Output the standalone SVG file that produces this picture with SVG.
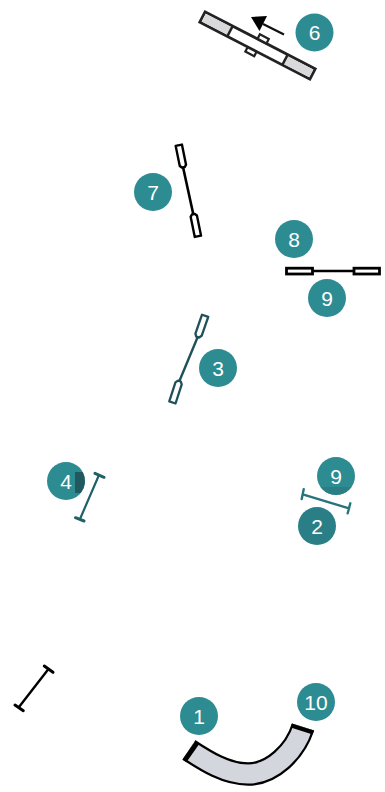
<svg xmlns="http://www.w3.org/2000/svg" width="385" height="792" viewBox="0 0 385 792">
<style>
.b{fill:#2d8b92}
.l{fill:#fff;font-family:"Liberation Sans",Arimo,sans-serif;font-size:21px;text-anchor:middle;dominant-baseline:central}
.k{fill:none;stroke:#000;stroke-linecap:round}
.t{fill:none;stroke:#1f5258;stroke-linecap:round}
</style>
<g id="connectors">
<line x1="284" y1="34.500" x2="263" y2="24" stroke="#111" stroke-width="2.200"/>
<path d="M251 17L267 16L259.500 31Z" fill="#000"/>
</g>
<g id="part-6">
<g transform="translate(257.500 45.500) rotate(27.400)">
<rect x="-62" y="-5.800" width="124" height="11.600" fill="#fff" stroke="#222" stroke-width="2.800"/>
<rect x="-60.600" y="-4.400" width="29" height="8.800" fill="#d9d9dc"/>
<rect x="31.600" y="-4.400" width="29" height="8.800" fill="#d9d9dc"/>
<path d="M-31-5.800V5.800M31-5.800V5.800" stroke="#222" stroke-width="2.400"/>
<rect x="-3" y="-11" width="10" height="5" fill="#fff" stroke="#222" stroke-width="2.200"/>
<rect x="-8" y="6" width="10" height="5" fill="#fff" stroke="#222" stroke-width="2.200"/>
</g>
<circle class="b" cx="314.500" cy="32.500" r="19"/><text class="l" x="314.500" y="32.500">6</text>
</g>
<g id="part-7">
<path class="k" stroke-width="2.600" d="M183 167L193.300 214.300"/>
<g transform="translate(181 156) rotate(-11.600)"><path d="M-3.200-11H3.200V9.500L1.500 11.500H-1.500L-3.200 9.500Z" fill="#fff" stroke="#000" stroke-width="2.400" stroke-linejoin="round"/></g>
<g transform="translate(195.700 225.500) rotate(-11.600)"><path d="M-3.200 11H3.200V-9.500L1.500-11.500H-1.500L-3.200-9.500Z" fill="#fff" stroke="#000" stroke-width="2.400" stroke-linejoin="round"/></g>
<circle class="b" cx="153" cy="192" r="19"/><text class="l" x="153" y="192">7</text>
</g>
<g id="part-8">
<path class="k" stroke-width="2.400" d="M313 271H353"/>
<rect x="286.500" y="268.200" width="26" height="5.800" fill="#fff" stroke="#000" stroke-width="2.800"/>
<rect x="354" y="268.200" width="25.500" height="5.800" fill="#fff" stroke="#000" stroke-width="2.800"/>
<circle class="b" cx="294" cy="239" r="19"/><text class="l" x="294" y="239">8</text>
<circle class="b" cx="327" cy="298" r="19"/><text class="l" x="327" y="298">9</text>
</g>
<g id="part-3">
<path class="t" stroke-width="2.400" d="M197.700 337L179 382"/>
<g transform="translate(201.500 326.200) rotate(19.300)"><path d="M-3.300-11H3.300V9L1.500 11.500H-1.500L-3.300 9Z" fill="#fff" stroke="#1f5258" stroke-width="2.300" stroke-linejoin="round"/></g>
<g transform="translate(175.800 392) rotate(18)"><path d="M-3.300 11H3.300V-9L1.500-11.500H-1.500L-3.300-9Z" fill="#fff" stroke="#1f5258" stroke-width="2.300" stroke-linejoin="round"/></g>
<circle class="b" cx="218" cy="368" r="19"/><text class="l" x="218" y="368">3</text>
</g>
<g id="part-4">
<circle class="b" cx="66" cy="481" r="19"/>
<path d="M75 472H82.700A19 19 0 0 1 80.700 493H75Z" fill="#22595f"/>
<text class="l" x="66" y="481">4</text>
<path class="t" style="stroke:#1f6168" stroke-width="2.200" d="M99 475L80 519"/>
<path class="t" style="stroke:#1f6168" stroke-width="3" d="M95 473.300L104 477.300M75.500 517.700L84 521"/>
</g>
<g id="part-2">
<circle class="b" cx="336" cy="476" r="19"/>
<path d="M320.500 487A19 19 0 0 0 351.500 487Z" fill="#2a7f86"/>
<text class="l" x="336" y="476">9</text>
<circle cx="317" cy="526" r="19" fill="#2a7f86"/><text class="l" x="317" y="526">2</text>
<path class="t" style="stroke:#25757b" stroke-width="2.400" d="M302.700 494.300L349 508.300M303.700 489.300L301.700 499M350.300 503.300L347.700 513.300"/>
</g>
<g id="part-5">
<path class="k" stroke-width="2.400" d="M47.700 670L19 707"/>
<path class="k" stroke-width="3" d="M44.300 666L53 672.300M15 705L23.300 710.700"/>
</g>
<g id="part-1">
<path d="M189 750C206 761 226 774 248 774C272 774 295 752 303 727" fill="none" stroke="#000" stroke-width="23.500"/>
<path d="M189 750C206 761 226 774 248 774C272 774 295 752 303 727" fill="none" stroke="#d3d6dc" stroke-width="19"/>
<path d="M189 750L193 752.800" fill="none" stroke="#000" stroke-width="23"/>
<path d="M303 727L301.700 731" fill="none" stroke="#000" stroke-width="23"/>
<circle class="b" cx="199" cy="716" r="19"/><text class="l" x="199" y="716">1</text>
<circle class="b" cx="316" cy="702" r="19"/><text class="l" x="316" y="702">10</text>
</g>
</svg>
